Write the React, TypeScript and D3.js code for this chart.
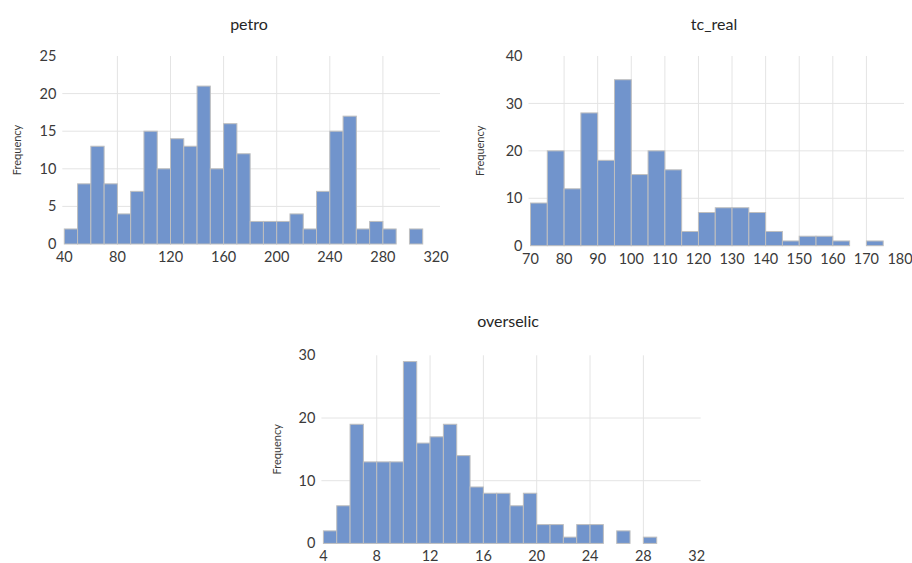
import React from "react";
import * as d3 from "d3";

// petro: 10-wide bins starting at 40
const petroStart = 40;
const petroBinWidth = 10;
const petroCounts = [2, 8, 13, 8, 4, 7, 15, 10, 14, 13, 21, 10, 16, 12, 3, 3, 3, 4, 2, 7, 15, 17, 2, 3, 2, 0, 2];
const petroXTicks = [40, 80, 120, 160, 200, 240, 280, 320];
const petroYTicks = [0, 5, 10, 15, 20, 25];

// tc_real: 5-wide bins starting at 70
const tcStart = 70;
const tcBinWidth = 5;
const tcCounts = [9, 20, 12, 28, 18, 35, 15, 20, 16, 3, 7, 8, 8, 7, 3, 1, 2, 2, 1, 0, 1];
const tcXTicks = [70, 80, 90, 100, 110, 120, 130, 140, 150, 160, 170, 180];
const tcYTicks = [0, 10, 20, 30, 40];

// overselic: 1-wide bins starting at 4
const selicStart = 4;
const selicBinWidth = 1;
const selicCounts = [2, 6, 19, 13, 13, 13, 29, 16, 17, 19, 14, 9, 8, 8, 6, 8, 3, 3, 1, 3, 3, 0, 2, 0, 1];
const selicXTicks = [4, 8, 12, 16, 20, 24, 28, 32];
const selicYTicks = [0, 10, 20, 30];

const FONT = "Lato, 'Open Sans', sans-serif";
const BAR_FILL = "#7194cc";
const BAR_STROKE = "#bfbfbf";
const GRID = "#e4e4e4";
const TEXT = "#3a3a3a";

type HistProps = {
  title: string;
  start: number;
  binWidth: number;
  counts: number[];
  xTicks: number[];
  yTicks: number[];
  left: number;
  right: number;
  top: number;
  bottom: number;
  titleX: number;
  titleY: number;
  freqX: number;
};

function Histogram(p: HistProps) {
  const xDomain = d3.extent(p.xTicks) as [number, number];
  const yMax = d3.max(p.yTicks) as number;
  const x = d3.scaleLinear().domain(xDomain).range([p.left, p.right]);
  const y = d3.scaleLinear().domain([0, yMax]).range([p.bottom, p.top]);
  const bins = p.counts.map((c, i) => ({
    x0: p.start + i * p.binWidth,
    x1: p.start + (i + 1) * p.binWidth,
    c,
  }));
  const gridRight = p.right + 4;
  const gridLeft = p.left - 2;
  return (
    <g>
      <text
        x={p.titleX}
        y={p.titleY}
        textAnchor="middle"
        fontSize={16}
        fill="#262626"
        fontFamily={FONT}
      >
        {p.title}
      </text>
      {/* horizontal grid */}
      {p.yTicks
        .filter((t) => t > 0 && t < yMax)
        .map((t) => (
          <line key={"h" + t} x1={gridLeft} x2={gridRight} y1={y(t)} y2={y(t)} stroke={GRID} strokeWidth={1} />
        ))}
      {/* vertical grid */}
      {p.xTicks.slice(1, -1).map((t) => (
        <line key={"v" + t} x1={x(t)} x2={x(t)} y1={p.top} y2={p.bottom} stroke={GRID} strokeWidth={1} />
      ))}
      {/* bars */}
      {bins.map((b, i) => (
        <rect
          key={i}
          x={x(b.x0)}
          y={y(b.c)}
          width={x(b.x1) - x(b.x0)}
          height={y(0) - y(b.c)}
          fill={BAR_FILL}
          stroke={BAR_STROKE}
          strokeWidth={1}
        />
      ))}
      {/* y tick labels */}
      {p.yTicks.map((t) => (
        <text
          key={"yl" + t}
          x={p.left - 8}
          y={y(t)}
          dy="0.35em"
          textAnchor="end"
          fontSize={14.5}
          fill={TEXT}
          fontFamily={FONT}
        >
          {t}
        </text>
      ))}
      {/* x tick labels */}
      {p.xTicks.map((t) => (
        <text
          key={"xl" + t}
          x={x(t)}
          y={p.bottom + 13}
          dy="0.35em"
          textAnchor="middle"
          fontSize={14.5}
          fill={TEXT}
          fontFamily={FONT}
        >
          {t}
        </text>
      ))}
      <text
        transform={`translate(${p.freqX},${(p.top + p.bottom) / 2}) rotate(-90)`}
        textAnchor="middle"
        dy="0.35em"
        fontSize={11}
        fill={TEXT}
        fontFamily={FONT}
      >
        Frequency
      </text>
    </g>
  );
}

export default function App() {
  return (
    <svg
      width={912}
      height={563}
      style={{ position: "absolute", left: 0, top: 0, background: "#fff" }}
    >
      <rect width={912} height={563} fill="#fff" />
      <Histogram
        title="petro"
        start={petroStart}
        binWidth={petroBinWidth}
        counts={petroCounts}
        xTicks={petroXTicks}
        yTicks={petroYTicks}
        left={64.3}
        right={436}
        top={56}
        bottom={244}
        titleX={249}
        titleY={30}
        freqX={17}
      />
      <Histogram
        title="tc_real"
        start={tcStart}
        binWidth={tcBinWidth}
        counts={tcCounts}
        xTicks={tcXTicks}
        yTicks={tcYTicks}
        left={530.5}
        right={900}
        top={56}
        bottom={245.7}
        titleX={714}
        titleY={30}
        freqX={480}
      />
      <Histogram
        title="overselic"
        start={selicStart}
        binWidth={selicBinWidth}
        counts={selicCounts}
        xTicks={selicXTicks}
        yTicks={selicYTicks}
        left={323.4}
        right={696.7}
        top={355.3}
        bottom={543.4}
        titleX={508}
        titleY={327}
        freqX={277}
      />
    </svg>
  );
}
